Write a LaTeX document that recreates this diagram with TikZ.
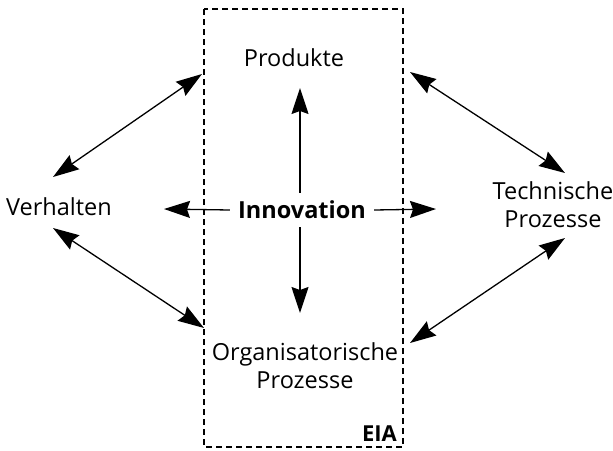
\documentclass[tikz,border=0pt]{standalone}
\usepackage{fontspec}
\setmainfont{Open Sans}
\usepackage{tikz}
\usetikzlibrary{arrows.meta}

\tikzset{
  lbl/.style={font=\fontsize{23.5}{28}\selectfont, align=center, inner sep=0pt},
  dblarr/.style={line width=1.3pt, {Stealth[length=26pt,width=17pt,inset=3pt]}-{Stealth[length=26pt,width=17pt,inset=3pt]}},
  onearr/.style={line width=1.3pt, -{Stealth[length=26pt,width=17pt,inset=3pt]}},
}

\begin{document}
\begin{tikzpicture}[x=1pt,y=-1pt]

       \useasboundingbox             (0,0) rectangle (613,450);
       \draw [dash pattern=on 6pt off 4pt, line width=1.3pt] (204,9) rectangle (403,447);

        \node [lbl]                  (prod) at (294,58)  {Produkte};
        \node [lbl, font=\fontsize{23.5}{28}\selectfont\bfseries, inner sep=8pt]
                                     (inno) at (302,210) {Innovation};
        \node [lbl]                  (verh) at (59,207)  {Verhalten};
        \node [lbl]                  (tech) at (553,205) {Technische\\Prozesse};
        \node [lbl]                  (orga) at (305,366) {Organisatorische\\Prozesse};
        \node [lbl, font=\fontsize{22}{27}\selectfont\bfseries, anchor=east]
                                     (eia)  at (397,434) {EIA};

        \coordinate (up)  at (300,88);
        \coordinate (dn)  at (300,313);
        \coordinate (lt)  at (164,209);
        \coordinate (rt)  at (436,209);

        \coordinate (vp)  at (53,177);
        \coordinate (pv)  at (202,74);
        \coordinate (vo)  at (53,228);
        \coordinate (ov)  at (204,328);
        \coordinate (tp)  at (565,173);
        \coordinate (pt)  at (410,72);
        \coordinate (to)  at (565,238);
        \coordinate (ot)  at (410,343);

        \draw [onearr]   (inno.north -| up) -- (up);
        \draw [onearr]   (inno.south -| dn) -- (dn);
        \draw [onearr]   (inno.west)  -- (lt);
        \draw [onearr]   (inno.east)  -- (rt);

        \draw [dblarr]   (vp) -- (pv);
        \draw [dblarr]   (vo) -- (ov);
        \draw [dblarr]   (tp) -- (pt);
        \draw [dblarr]   (to) -- (ot);

     \end{tikzpicture}
\end{document}
